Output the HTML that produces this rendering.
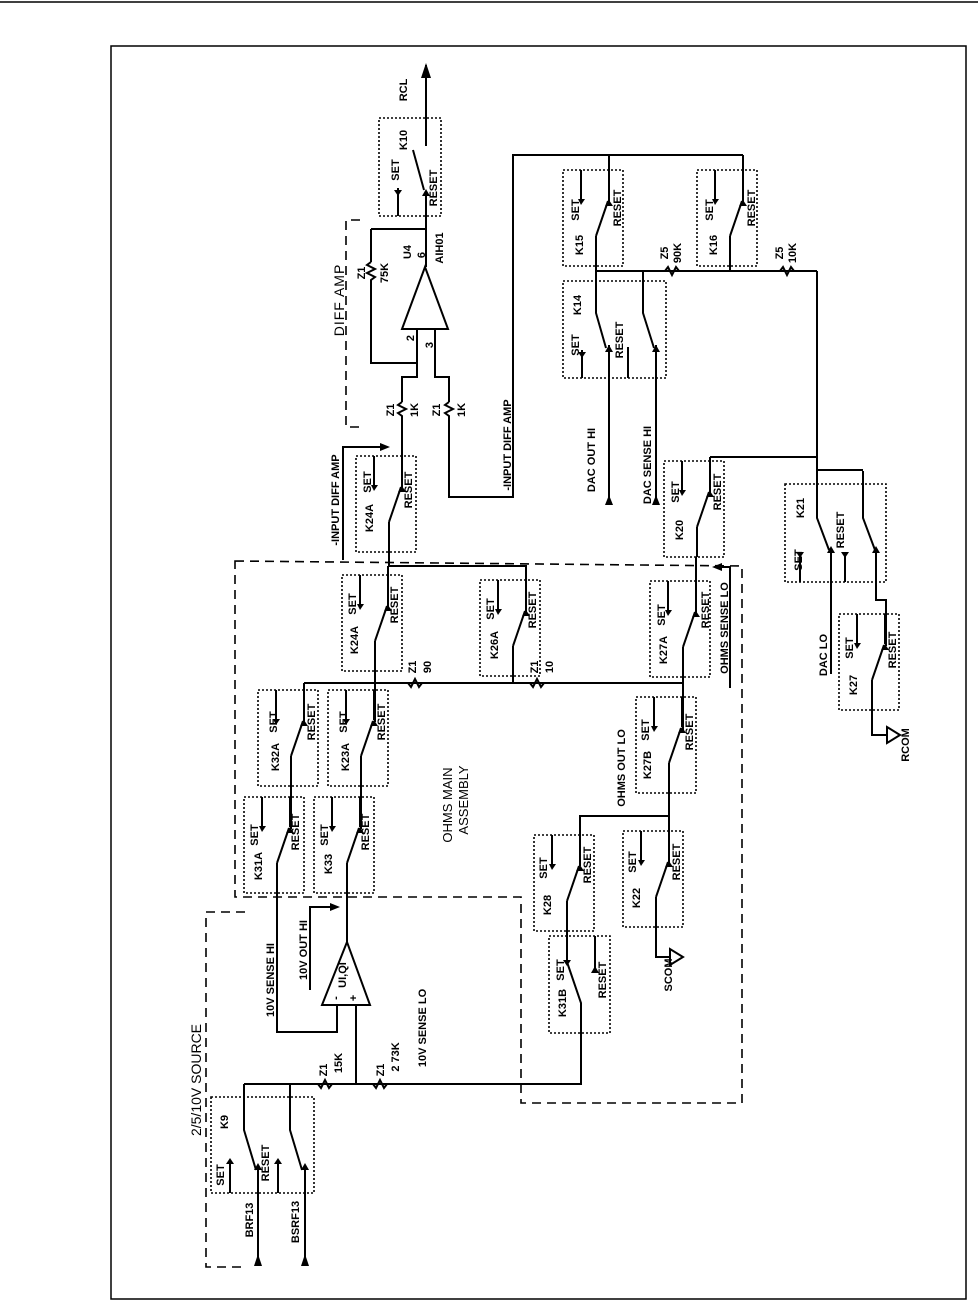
<!DOCTYPE html>
<html><head><meta charset="utf-8"><style>
html,body{margin:0;padding:0;background:#fff}
svg{display:block}
text{font-family:"Liberation Sans",sans-serif;font-weight:bold;font-size:11px;fill:#000}
.w{stroke:#000;stroke-width:2;fill:none}
.d{stroke:#000;stroke-width:1.6;fill:none;stroke-dasharray:2 2}
.b{stroke:#000;stroke-width:1.6;fill:none;stroke-dasharray:9 6}
</style></head><body>
<svg width="978" height="1305" viewBox="0 0 978 1305" xmlns="http://www.w3.org/2000/svg">
<defs>
<g id="rl">
<rect class="d" width="60" height="96"/>
<path class="w" d="M18 0V30M46 0V30M33 66L45 31M33 66V96"/>
<polygon points="15,29 22,29 18,35" fill="#000"/>
<polygon points="42,36 50,36 46,30" fill="#000"/>
</g>
</defs>
<line x1="0" y1="2" x2="978" y2="2" stroke="#000" stroke-width="1.5"/>
<rect x="111" y="46" width="855" height="1253" fill="none" stroke="#000" stroke-width="1.5"/>

<path class="b" d="M360 220H346V427H360"/>
<path class="b" d="M235 561L742 566V1103H521V897H235Z"/>
<path class="b" d="M245 912H206V1267H245"/>

<use href="#rl" x="563" y="170"/>
<use href="#rl" x="697" y="170"/>
<use href="#rl" x="356" y="456"/>
<use href="#rl" x="664" y="461"/>
<use href="#rl" x="342" y="575"/>
<use href="#rl" x="480" y="580"/>
<use href="#rl" x="650" y="581"/>
<use href="#rl" x="258" y="690"/>
<use href="#rl" x="328" y="690"/>
<use href="#rl" x="636" y="697"/>
<use href="#rl" x="244" y="797"/>
<use href="#rl" x="314" y="797"/>
<use href="#rl" x="534" y="835"/>
<use href="#rl" x="623" y="831"/>
<use href="#rl" x="839" y="614"/>

<rect class="d" x="379" y="118" width="62" height="98"/>
<path class="w" d="M426 65V146M413 150L424 190M426 192V267M398 216V188"/>
<polygon points="421,78 431,78 426,63" fill="#000"/>
<polygon points="422,196 430,196 426,189" fill="#000"/>
<polygon points="394,190 402,190 398,196" fill="#000"/>

<rect class="d" x="563" y="281" width="103" height="97"/>
<path class="w" d="M596 236V313L606 348M609 345V500M643 271V313L654 348M656 345V500M582 378V350M628 378V347"/>
<polygon points="578,352 586,352 582,358" fill="#000"/>
<polygon points="605,352 613,352 609,345" fill="#000"/>
<polygon points="652,352 660,352 656,345" fill="#000"/>
<polygon points="605,505 613,505 609,495" fill="#000"/>
<polygon points="652,505 660,505 656,495" fill="#000"/>

<rect class="d" x="785" y="484" width="101" height="98"/>
<path class="w" d="M817 271V518L829 550M831 548V674M863 471V518L875 550M876 548V600H886V646M800 582V552M845 582V552M817 470H863"/>
<polygon points="796,552 804,552 800,558" fill="#000"/>
<polygon points="841,552 849,552 845,558" fill="#000"/>
<polygon points="827,553 835,553 831,546" fill="#000"/>
<polygon points="872,553 880,553 876,546" fill="#000"/>

<rect class="d" x="549" y="936" width="61" height="97"/>
<path class="w" d="M567 901V962M567 962L581 1003V1084H244M595 936V970"/>
<polygon points="563,960 571,960 567,966" fill="#000"/>
<polygon points="591,973 599,973 595,966" fill="#000"/>

<rect class="d" x="211" y="1097" width="103" height="96"/>
<path class="w" d="M244 1084V1130L256 1170M258 1165V1258M290 1084V1130L302 1170M305 1165V1258M230 1193V1164M278 1193V1164"/>
<polygon points="226,1164 234,1164 230,1158" fill="#000"/>
<polygon points="274,1164 282,1164 278,1158" fill="#000"/>
<polygon points="254,1170 262,1170 258,1163" fill="#000"/>
<polygon points="301,1170 309,1170 305,1163" fill="#000"/>
<polygon points="254,1266 262,1266 258,1254" fill="#000"/>
<polygon points="301,1266 309,1266 305,1254" fill="#000"/>

<polygon points="425,267 402,329 448,329" class="w"/>
<polygon points="347,942 322,1005 370,1005" class="w"/>

<path class="w" d="M371 229H426M371 229V262M371 284V363H416M417 329V377H402V402M402 418V490M435 329V377H449V402M449 418V497H513V155H743M609 155V202M743 155V202"/>
<path class="w" d="M389 522V566M388 566V607M388 566H526V612M375 641V722M304 683H683M513 646V683M683 647V730M696 557V615M697 527V557M304 683V722"/>
<path class="w" d="M596 271H817M730 236V271M710 457H817M710 457V493"/>
<path class="w" d="M730 688V567H718"/><polygon points="722,563 712,567 722,571" fill="#000"/>
<path class="w" d="M343 560V447H383"/><polygon points="380,443 390,447 380,451" fill="#000"/>
<path class="w" d="M669 763V816H580V866M669 816V866M656 897V957H670"/>
<path class="w" d="M291 756V829M277 863V1032H337V1005M361 756V829M347 863V942M356 1005V1084"/>
<path class="w" d="M310 990V907H332"/><polygon points="330,903 340,907 330,911" fill="#000"/>
<path class="w" d="M872 680V735H887"/>
<polygon points="887,727 887,743 900,735" fill="#fff" stroke="#000" stroke-width="2"/>
<polygon points="670,949 670,965 683,957" fill="#fff" stroke="#000" stroke-width="2"/>
<g stroke="#000" stroke-width="2" fill="none">
<path d="M371 262l-4 3 8 4-8 4 8 4-4 3v4"/>
<path d="M402 402l-4 3 8 4-8 4 4 3v2"/>
<path d="M449 402l-4 3 8 4-8 4 4 3v2"/>
<path d="M665 271l3-4 4 8 4-8 3 4"/>
<path d="M780 271l3-4 4 8 4-8 3 4"/>
<path d="M408 683l3 4 4-8 4 8 3-4"/>
<path d="M530 683l3 4 4-8 4 8 3-4"/>
<path d="M318 1084l3 4 4-8 4 8 3-4"/>
<path d="M373 1084l3 4 4-8 4 8 3-4"/>
</g>

<g text-anchor="middle">
<text transform="translate(395,170) rotate(-90)" dy="4">SET</text><text transform="translate(403,140) rotate(-90)" dy="4">K10</text><text transform="translate(433,188) rotate(-90)" dy="4">RESET</text>
<text transform="translate(575,210) rotate(-90)" dy="4">SET</text><text transform="translate(579,245) rotate(-90)" dy="4">K15</text><text transform="translate(617,208) rotate(-90)" dy="4">RESET</text>
<text transform="translate(709,210) rotate(-90)" dy="4">SET</text><text transform="translate(713,245) rotate(-90)" dy="4">K16</text><text transform="translate(751,208) rotate(-90)" dy="4">RESET</text>
<text transform="translate(575,345) rotate(-90)" dy="4">SET</text><text transform="translate(577,305) rotate(-90)" dy="4">K14</text><text transform="translate(619,340) rotate(-90)" dy="4">RESET</text>
<text transform="translate(367,482) rotate(-90)" dy="4">SET</text><text transform="translate(369,518) rotate(-90)" dy="4">K24A</text><text transform="translate(408,490) rotate(-90)" dy="4">RESET</text>
<text transform="translate(675,492) rotate(-90)" dy="4">SET</text><text transform="translate(679,530) rotate(-90)" dy="4">K20</text><text transform="translate(717,492) rotate(-90)" dy="4">RESET</text>
<text transform="translate(798,560) rotate(-90)" dy="4">SET</text><text transform="translate(800,508) rotate(-90)" dy="4">K21</text><text transform="translate(840,530) rotate(-90)" dy="4">RESET</text>
<text transform="translate(352,604) rotate(-90)" dy="4">SET</text><text transform="translate(354,640) rotate(-90)" dy="4">K24A</text><text transform="translate(394,605) rotate(-90)" dy="4">RESET</text>
<text transform="translate(490,609) rotate(-90)" dy="4">SET</text><text transform="translate(494,645) rotate(-90)" dy="4">K26A</text><text transform="translate(532,610) rotate(-90)" dy="4">RESET</text>
<text transform="translate(661,615) rotate(-90)" dy="4">SET</text><text transform="translate(663,650) rotate(-90)" dy="4">K27A</text><text transform="translate(705,610) rotate(-90)" dy="4">RESET</text>
<text transform="translate(273,722) rotate(-90)" dy="4">SET</text><text transform="translate(275,757) rotate(-90)" dy="4">K32A</text><text transform="translate(311,722) rotate(-90)" dy="4">RESET</text>
<text transform="translate(343,722) rotate(-90)" dy="4">SET</text><text transform="translate(345,757) rotate(-90)" dy="4">K23A</text><text transform="translate(381,722) rotate(-90)" dy="4">RESET</text>
<text transform="translate(645,730) rotate(-90)" dy="4">SET</text><text transform="translate(647,765) rotate(-90)" dy="4">K27B</text><text transform="translate(689,732) rotate(-90)" dy="4">RESET</text>
<text transform="translate(254,835) rotate(-90)" dy="4">SET</text><text transform="translate(258,866) rotate(-90)" dy="4">K31A</text><text transform="translate(295,832) rotate(-90)" dy="4">RESET</text>
<text transform="translate(324,835) rotate(-90)" dy="4">SET</text><text transform="translate(328,864) rotate(-90)" dy="4">K33</text><text transform="translate(365,832) rotate(-90)" dy="4">RESET</text>
<text transform="translate(543,868) rotate(-90)" dy="4">SET</text><text transform="translate(547,905) rotate(-90)" dy="4">K28</text><text transform="translate(587,865) rotate(-90)" dy="4">RESET</text>
<text transform="translate(632,862) rotate(-90)" dy="4">SET</text><text transform="translate(636,898) rotate(-90)" dy="4">K22</text><text transform="translate(676,862) rotate(-90)" dy="4">RESET</text>
<text transform="translate(560,970) rotate(-90)" dy="4">SET</text><text transform="translate(562,1003) rotate(-90)" dy="4">K31B</text><text transform="translate(602,980) rotate(-90)" dy="4">RESET</text>
<text transform="translate(849,648) rotate(-90)" dy="4">SET</text><text transform="translate(853,685) rotate(-90)" dy="4">K27</text><text transform="translate(892,650) rotate(-90)" dy="4">RESET</text>
<text transform="translate(220,1175) rotate(-90)" dy="4">SET</text><text transform="translate(224,1122) rotate(-90)" dy="4">K9</text><text transform="translate(265,1163) rotate(-90)" dy="4">RESET</text>

<text transform="translate(403,90) rotate(-90)" dy="4">RCL</text>
<text transform="translate(339,300) rotate(-90)" dy="5" style="font-size:14px;font-weight:normal;letter-spacing:1px">DIFF AMP</text>
<text transform="translate(361,273) rotate(-90)" dy="4">Z1</text><text transform="translate(384,273) rotate(-90)" dy="4">75K</text>
<text transform="translate(390,410) rotate(-90)" dy="4">Z1</text><text transform="translate(414,410) rotate(-90)" dy="4">1K</text>
<text transform="translate(436,410) rotate(-90)" dy="4">Z1</text><text transform="translate(461,410) rotate(-90)" dy="4">1K</text>
<text transform="translate(407,252) rotate(-90)" dy="4">U4</text><text transform="translate(421,255) rotate(-90)" dy="4">6</text><text transform="translate(439,248) rotate(-90)" dy="4">AIH01</text>
<text transform="translate(410,338) rotate(-90)" dy="4">2</text><text transform="translate(429,345) rotate(-90)" dy="4">3</text>
<text transform="translate(335,500) rotate(-90)" dy="4">-INPUT DIFF AMP</text>
<text transform="translate(507,445) rotate(-90)" dy="4">-INPUT DIFF AMP</text>
<text transform="translate(591,460) rotate(-90)" dy="4">DAC OUT HI</text>
<text transform="translate(647,465) rotate(-90)" dy="4">DAC SENSE HI</text>
<text transform="translate(664,253) rotate(-90)" dy="4">Z5</text><text transform="translate(677,253) rotate(-90)" dy="4">90K</text>
<text transform="translate(779,253) rotate(-90)" dy="4">Z5</text><text transform="translate(792,253) rotate(-90)" dy="4">10K</text>
<text transform="translate(724,628) rotate(-90)" dy="4">OHMS SENSE LO</text>
<text transform="translate(823,655) rotate(-90)" dy="4">DAC LO</text>
<text transform="translate(905,745) rotate(-90)" dy="4">RCOM</text>
<text transform="translate(668,975) rotate(-90)" dy="4">SCOM</text>
<text transform="translate(412,667) rotate(-90)" dy="4">Z1</text><text transform="translate(427,667) rotate(-90)" dy="4">90</text>
<text transform="translate(534,667) rotate(-90)" dy="4">Z1</text><text transform="translate(549,667) rotate(-90)" dy="4">10</text>
<text transform="translate(447,805) rotate(-90)" dy="5" style="font-size:13px;font-weight:normal">OHMS MAIN</text>
<text transform="translate(463,800) rotate(-90)" dy="5" style="font-size:13px;font-weight:normal">ASSEMBLY</text>
<text transform="translate(621,768) rotate(-90)" dy="4">OHMS OUT LO</text>
<text transform="translate(270,980) rotate(-90)" dy="4">10V SENSE HI</text>
<text transform="translate(303,950) rotate(-90)" dy="4">10V OUT HI</text>
<text transform="translate(342,975) rotate(-90)" dy="4">UI,QI</text>
<text transform="translate(335,998) rotate(-90)" dy="4">-</text><text transform="translate(353,998) rotate(-90)" dy="4">+</text>
<text transform="translate(422,1028) rotate(-90)" dy="4">10V SENSE LO</text>
<text transform="translate(323,1070) rotate(-90)" dy="4">Z1</text><text transform="translate(338,1063) rotate(-90)" dy="4">15K</text>
<text transform="translate(380,1070) rotate(-90)" dy="4">Z1</text><text transform="translate(395,1057) rotate(-90)" dy="4">2 73K</text>
<text transform="translate(196,1080) rotate(-90)" dy="5" style="font-size:14px;font-weight:normal">2/5/10V SOURCE</text>
<text transform="translate(249,1220) rotate(-90)" dy="4">BRF13</text>
<text transform="translate(295,1222) rotate(-90)" dy="4">BSRF13</text>
</g>
</svg>
</body></html>
